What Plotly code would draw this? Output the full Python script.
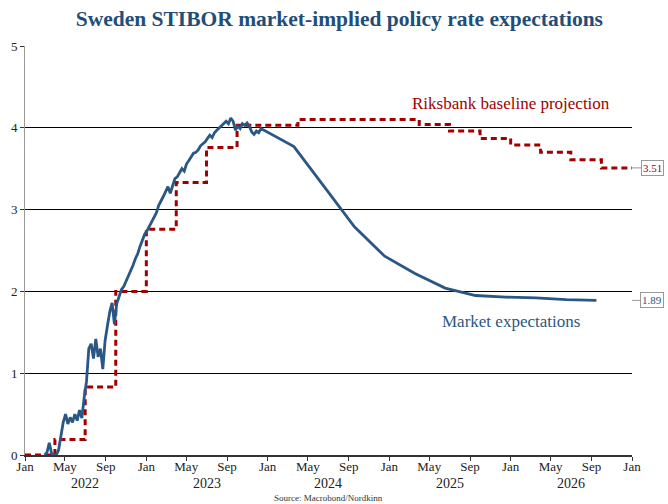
import plotly.graph_objects as go
import pandas as pd

# ---- Data ----
# Market-implied policy rate: weekly history
hist_dates = pd.date_range("2022-03-01", "2023-12-12", freq="7D").strftime("%Y-%m-%d").tolist()
hist_values = [
    0.00, 0.03, 0.15, 0.02, 0.00, 0.00, 0.06, 0.25, 0.40, 0.50,
    0.38, 0.46, 0.40, 0.50, 0.42, 0.55, 0.45, 0.70, 0.90, 1.30,
    1.36, 1.18, 1.42, 1.20, 1.30, 1.05, 1.40, 1.58, 1.75, 1.86,
    1.60, 1.85, 1.95, 2.02, 2.06, 2.12, 2.20, 2.24, 2.32, 2.40,
    2.46, 2.55, 2.62, 2.70,
    2.74, 2.80, 2.86, 2.92, 2.96, 3.05, 3.10, 3.16, 3.22, 3.28,
    3.20, 3.30, 3.38, 3.40, 3.46, 3.50, 3.47, 3.56, 3.60, 3.64,
    3.69, 3.70, 3.73, 3.78, 3.80, 3.83, 3.87, 3.91, 3.88, 3.94,
    3.97, 4.00, 4.02, 4.05, 4.08, 4.05, 4.12, 4.08, 3.97, 4.02,
    3.99, 4.05, 4.03, 4.06, 4.02, 3.95, 3.92, 3.96, 3.94, 3.99,
]
# Market-implied forward path
fwd_dates = ["2024-03-20", "2024-06-19", "2024-09-18", "2024-12-18", "2025-03-19",
             "2025-06-18", "2025-09-17", "2025-12-17", "2026-03-18", "2026-06-17",
             "2026-09-16"]
fwd_values = [3.77, 3.28, 2.79, 2.43, 2.22, 2.04, 1.95, 1.93, 1.92, 1.90, 1.89]

# Riksbank baseline projection (quarterly averages), step line
rb_dates = ["2022-01-01", "2022-04-01", "2022-07-01", "2022-10-01",
            "2023-01-01", "2023-04-01", "2023-07-01", "2023-10-01",
            "2024-01-01", "2024-04-01", "2024-07-01", "2024-10-01",
            "2025-01-01", "2025-04-01", "2025-07-01", "2025-10-01",
            "2026-01-01", "2026-04-01", "2026-07-01", "2026-10-01",
            "2027-01-01"]
rb_values = [0.00, 0.19, 0.83, 2.00,
             2.76, 3.33, 3.76, 4.03,
             4.03, 4.10, 4.10, 4.10,
             4.10, 4.04, 3.96, 3.87,
             3.79, 3.70, 3.61, 3.51,
             3.51]

# Axis ticks
tick_dates = pd.date_range("2022-01-01", "2027-01-01", freq="4MS").strftime("%Y-%m-%d").tolist()
tick_labels = ["Jan", "May", "Sep"] * 5 + ["Jan"]
year_labels = ["2022", "2023", "2024", "2025", "2026"]
year_centers = ["2022-07-01", "2023-07-01", "2024-07-01", "2025-07-01", "2026-07-01"]

BLUE = "#2a5783"
RED = "#a00000"
SERIF = "Liberation Serif"

market_x = hist_dates + fwd_dates
market_y = hist_values + fwd_values

fig = go.Figure()
fig.add_trace(go.Scatter(
    x=rb_dates, y=rb_values, mode="lines", line_shape="hv",
    line=dict(color=RED, width=3, dash="6px,4px"), showlegend=False,
))
fig.add_trace(go.Scatter(
    x=market_x, y=market_y, mode="lines",
    line=dict(color=BLUE, width=2.8), showlegend=False,
))

annotations = []
for yl, yc in zip(year_labels, year_centers):
    annotations.append(dict(x=yc, y=0, xref="x", yref="paper", text=yl, showarrow=False,
                            yshift=-28, yanchor="middle",
                            font=dict(family=SERIF, size=14, color="#222")))
annotations.append(dict(x="2026-01-01", y=4.30, xref="x", yref="y",
                        text="Riksbank baseline projection", showarrow=False,
                        font=dict(family=SERIF, size=17, color=RED)))
annotations.append(dict(x="2026-01-01", y=1.63, xref="x", yref="y",
                        text="Market expectations", showarrow=False,
                        font=dict(family=SERIF, size=17, color=BLUE)))
annotations.append(dict(x=rb_dates[-1], y=rb_values[-1], xref="x", yref="y",
                        text=f"{rb_values[-1]:.2f}", showarrow=True, arrowhead=0,
                        arrowwidth=1, arrowcolor="#999", ax=20, ay=0,
                        bordercolor="#999", borderwidth=1, borderpad=1, bgcolor="white",
                        font=dict(family=SERIF, size=11, color=RED)))
annotations.append(dict(x=rb_dates[-1], y=fwd_values[-1], xref="x", yref="y",
                        text=f"{fwd_values[-1]:.2f}", showarrow=True, arrowhead=0,
                        arrowwidth=1, arrowcolor="#999", ax=20, ay=0,
                        bordercolor="#999", borderwidth=1, borderpad=1, bgcolor="white",
                        font=dict(family=SERIF, size=11, color=BLUE)))
annotations.append(dict(x=0.5, y=0, xref="paper", yref="paper",
                        text="Source: Macrobond/Nordkinn", showarrow=False,
                        yshift=-43, yanchor="middle",
                        font=dict(family=SERIF, size=9, color="#333")))

fig.update_layout(
    width=668, height=504,
    margin=dict(l=25, r=36, t=46, b=49),
    paper_bgcolor="white", plot_bgcolor="white",
    title=dict(text="<b>Sweden STIBOR market-implied policy rate expectations</b>",
               x=0.508, xref="container", y=0.964, yref="container",
               xanchor="center", yanchor="middle",
               font=dict(family=SERIF, size=21.5, color="#1f4e79")),
    annotations=annotations,
    xaxis=dict(type="date", range=["2022-01-01", "2027-01-01"],
               tickvals=tick_dates, ticktext=tick_labels,
               ticks="outside", ticklen=4, tickcolor="#333",
               ticklabelstandoff=-6,
               showline=True, linecolor="#333", linewidth=2,
               showgrid=False, zeroline=False,
               tickfont=dict(family=SERIF, size=13, color="#222")),
    yaxis=dict(range=[0, 5], dtick=1, tick0=0,
               showgrid=True, gridcolor="black", gridwidth=1,
               zeroline=False, showline=True, linecolor="#999", linewidth=1,
               ticks="outside", ticklen=4, tickcolor="#333",
               tickfont=dict(family=SERIF, size=13, color="#222")),
)

fig.write_html("out.html", config={"displayModeBar": False},
               post_script="document.body.style.margin='0';")
